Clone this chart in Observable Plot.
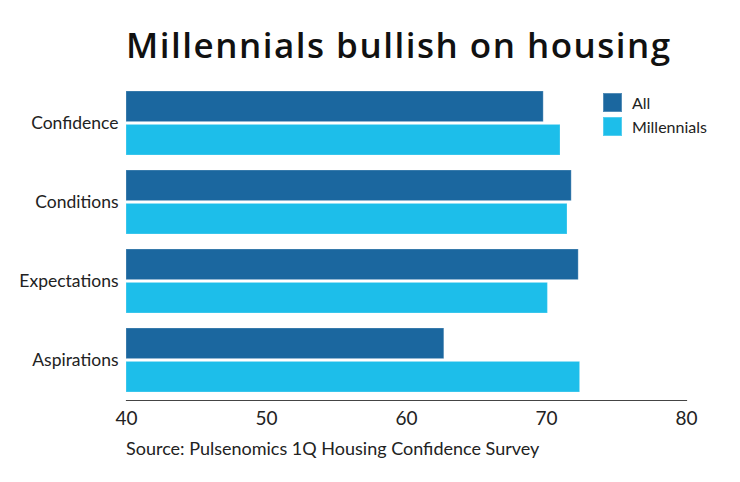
<!DOCTYPE html>
<html>
<head>
<meta charset="utf-8">
<script src="https://cdn.jsdelivr.net/npm/d3@7"></script>
<script src="https://cdn.jsdelivr.net/npm/@observablehq/plot@0.6"></script>
<style>
  html, body { margin: 0; padding: 0; background: #fff; }
  #wrap { position: relative; width: 740px; height: 482px; overflow: hidden; font-family: Lato, sans-serif; color: #222; }
  #title { height: 80px; box-sizing: border-box; padding-left: 126px; padding-top: 25px;
           font-family: "Open Sans", sans-serif; font-weight: 600; font-size: 35px; line-height: 40px;
           letter-spacing: 1.5px; color: #111; white-space: nowrap; }
  #chart svg { display: block; }
  #caption { box-sizing: border-box; padding-left: 126px; padding-top: 7.5px; font-size: 18px; line-height: 20px; color: #222; }
  .legend { position: absolute; left: 603px; display: flex; align-items: center; font-size: 16px; color: #222; }
  .legend .sw { width: 19px; height: 19px; margin-right: 10px; box-sizing: border-box; }
</style>
</head>
<body>
<div id="wrap">
  <div id="title">Millennials bullish on housing</div>
  <div id="chart"></div>
  <div id="caption">Source: Pulsenomics 1Q Housing Confidence Survey</div>
  <div id="legend"></div>
</div>
<script>
const categories = ["Confidence", "Conditions", "Expectations", "Aspirations"];
const series = ["All", "Millennials"];
const allValues = [69.8, 71.8, 72.3, 62.7];
const millennialValues = [71.0, 71.5, 70.1, 72.4];
const xTicks = [40, 50, 60, 70, 80];
const colors = ["#1b679f", "#1dbeea"];

const rows = [];
categories.forEach((c, i) => {
  rows.push({category: c, series: series[0], value: allValues[i]});
  rows.push({category: c, series: series[1], value: millennialValues[i]});
});

const chart = Plot.plot({
  width: 740,
  height: 350,
  marginTop: 3.4,
  marginBottom: 30,
  marginLeft: 126,
  marginRight: 54,
  style: {fontFamily: "Lato, sans-serif", color: "#222", background: "transparent"},
  x: {domain: [xTicks[0], xTicks[xTicks.length - 1]]},
  y: {domain: categories, paddingInner: 0.185, paddingOuter: 0.096},
  color: {domain: series, range: colors},
  marks: [
    Plot.barX(rows.filter(d => d.series === series[0]), {
      y: "category", x1: xTicks[0], x2: "value", fill: "series",
      insetBottom: 33.4, stroke: "#ffffff", strokeOpacity: 0.25, strokeWidth: 1
    }),
    Plot.barX(rows.filter(d => d.series === series[1]), {
      y: "category", x1: xTicks[0], x2: "value", fill: "series",
      insetTop: 33.4, stroke: "#ffffff", strokeOpacity: 0.25, strokeWidth: 1
    }),
    Plot.frame({anchor: "bottom", stroke: "#444", strokeWidth: 1.2}),
    Plot.axisX({ticks: xTicks, tickSize: 0, tickPadding: 11, fontSize: 19, label: null, tickFormat: d => String(d)}),
    Plot.axisY({tickSize: 0, tickPadding: 8, fontSize: 17.5, label: null})
  ]
});
document.getElementById("chart").appendChild(chart);

const legend = document.getElementById("legend");
series.forEach((s, i) => {
  const item = document.createElement("div");
  item.className = "legend";
  item.style.top = (93.3 + i * 23.4) + "px";
  const sw = document.createElement("div");
  sw.className = "sw";
  sw.style.background = colors[i];
  sw.style.border = "1px solid rgba(255,255,255,0.25)";
  const label = document.createElement("span");
  label.textContent = s;
  item.appendChild(sw);
  item.appendChild(label);
  legend.appendChild(item);
});
</script>
</body>
</html>
